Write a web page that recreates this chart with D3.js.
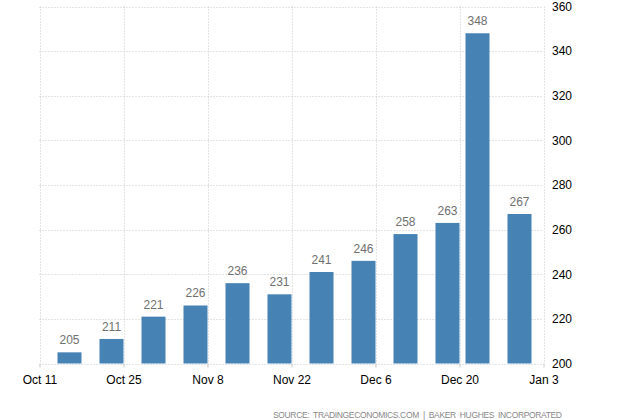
<!DOCTYPE html>
<meta charset="utf-8">
<script src="https://d3js.org/d3.v7.min.js"></script>
<style>
  body { margin: 0; background: #fff; }
  text { font-family: "Liberation Sans", Arial, sans-serif; }
</style>
<svg width="635" height="420"></svg>

<script>

// weekly rig counts
const dates  = ["2020-10-16", "2020-10-23", "2020-10-30", "2020-11-06", "2020-11-13", "2020-11-20",
                "2020-11-27", "2020-12-04", "2020-12-11", "2020-12-18", "2020-12-23", "2020-12-30"];
const values = [205, 211, 221, 226, 236, 231, 241, 246, 258, 263, 348, 267];

const xTicks = ["2020-10-11", "2020-10-25", "2020-11-08", "2020-11-22", "2020-12-06", "2020-12-20", "2021-01-03"];
const yTicks = [200, 220, 240, 260, 280, 300, 320, 340, 360];

const parse = d3.timeParse("%Y-%m-%d");

var svg = d3.select("svg");

var x = d3.scaleTime()
    .domain([parse(xTicks[0]), parse(xTicks[xTicks.length - 1])])
    .range([39.5, 543.5]);

var y = d3.scaleLinear()
    .domain([200, 360])
    .range([363.5, 6.5]);

// grid
svg.append("g")
  .selectAll("line")
  .data(yTicks)
  .enter().append("line")
    .attr("x1", 39.5).attr("x2", 543.5)
    .attr("y1", d => Math.round(y(d)) + 0.5)
    .attr("y2", d => Math.round(y(d)) + 0.5)
    .attr("stroke", "#c8c8c8")
    .attr("stroke-dasharray", "1,2");

svg.append("g")
  .selectAll("line")
  .data(xTicks)
  .enter().append("line")
    .attr("x1", d => Math.round(x(parse(d))) + 0.5)
    .attr("x2", d => Math.round(x(parse(d))) + 0.5)
    .attr("y1", 6.5).attr("y2", 363.5)
    .attr("stroke", "#c8c8c8")
    .attr("stroke-dasharray", "1,2");

// bars
var barW = 24;
svg.append("g")
  .selectAll("rect")
  .data(values)
  .enter().append("rect")
    .attr("x", (d, i) => x(parse(dates[i])) - barW / 2)
    .attr("y", d => y(d))
    .attr("width", barW)
    .attr("height", d => y(200) - y(d))
    .attr("fill", "#4682b4");

// value labels
svg.append("g")
  .selectAll("text")
  .data(values)
  .enter().append("text")
    .attr("x", (d, i) => x(parse(dates[i])))
    .attr("y", d => y(d) - 8)
    .attr("text-anchor", "middle")
    .attr("font-size", 12)
    .attr("fill", "#707070")
    .text(d => d);

// x axis
var xAxis = d3.axisBottom(x)
    .tickValues(xTicks.map(parse))
    .tickSize(4)
    .tickFormat(d3.timeFormat("%b %-d"));

var gx = svg.append("g")
    .attr("transform", "translate(0,363.5)")
    .call(xAxis);
gx.select(".domain").remove();
gx.selectAll("line").attr("stroke", "#c8c8c8");
gx.selectAll("text")
    .attr("y", 12)
    .attr("font-size", 12)
    .attr("fill", "#000")
    .style("font-family", "'Liberation Sans', Arial, sans-serif");

// y axis on the right
var yAxis = d3.axisRight(y)
    .tickValues(yTicks)
    .tickSize(0)
    .tickPadding(9);

var gy = svg.append("g")
    .attr("transform", "translate(543,0)")
    .call(yAxis);
gy.select(".domain").remove();
gy.selectAll("text")
    .attr("font-size", 12)
    .attr("fill", "#000")
    .style("font-family", "'Liberation Sans', Arial, sans-serif");

// source note
svg.append("text")
    .attr("x", 273)
    .attr("y", 418)
    .attr("font-size", 8.5)
    .attr("fill", "#888")
    .attr("textLength", 289)
    .attr("lengthAdjust", "spacing")
    .style("white-space", "pre")
    .text("SOURCE:  TRADINGECONOMICS.COM  |  BAKER  HUGHES  INCORPORATED");

</script>
